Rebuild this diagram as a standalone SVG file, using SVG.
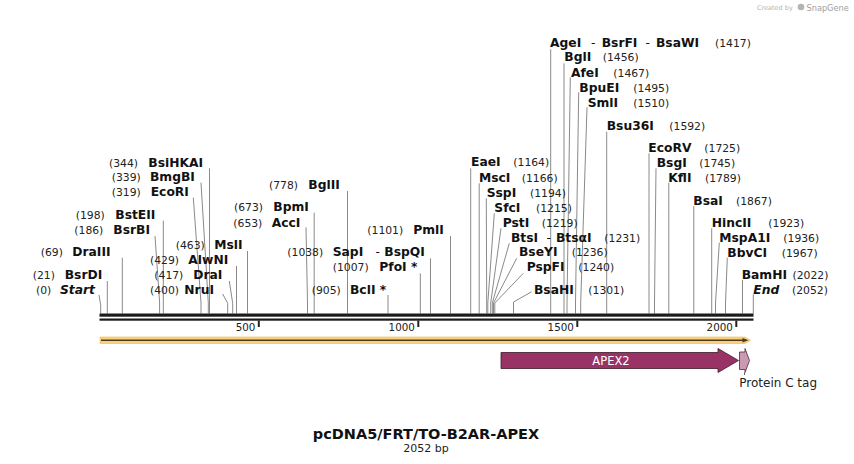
<svg xmlns="http://www.w3.org/2000/svg" width="854" height="464" viewBox="0 0 854 464">
<style>
.n{font-family:"DejaVu Sans",Verdana,sans-serif;font-size:10.8px;fill:#222}
.e{font-family:"DejaVu Sans",Verdana,sans-serif;font-size:12.3px;font-weight:bold;fill:#111}
.d{font-weight:normal}
.i{font-style:italic}
.c{fill:none;stroke:#8a8a8a;stroke-width:1}
.t{font-family:"DejaVu Sans",Verdana,sans-serif;font-size:10.3px;fill:#222;text-anchor:end}
.tk{stroke:#222;stroke-width:2}
</style>
<rect width="854" height="464" fill="#fff"/>
<g id="credit">
<text x="757" y="10" font-family="DejaVu Sans,sans-serif" font-size="6.5" fill="#b4b4b4">Created by</text>
<circle cx="801" cy="7" r="3.3" fill="#b4b4b4"/>
<text x="806.5" y="10.5" font-family="DejaVu Sans,sans-serif" font-size="8.2" fill="#a0a0a0">SnapGene</text>
</g>
<g id="connectors">
<polyline class="c" points="99,295 100.7,305 100.7,313.5"/>
<polyline class="c" points="107.3,281 107.3,313.5"/>
<polyline class="c" points="122.3,257.7 122.3,313.5"/>
<polyline class="c" points="155,236 159.6,302 159.6,313.5"/>
<polyline class="c" points="163.3,220.7 163.3,313.5"/>
<polyline class="c" points="193.3,197.7 201,303 201,313.5"/>
<polyline class="c" points="201,182.7 208.3,303 208.3,313.5"/>
<polyline class="c" points="209.5,168.3 209.5,313.5"/>
<polyline class="c" points="222.7,294 227.7,303.3 227.7,313.5"/>
<polyline class="c" points="229.3,281 232.7,303.3 232.7,313.5"/>
<polyline class="c" points="236.5,266 236.5,313.5"/>
<polyline class="c" points="247.5,251 247.5,313.5"/>
<polyline class="c" points="306,227.3 307.5,303 307.5,313.5"/>
<polyline class="c" points="314.2,212.7 314.2,313.5"/>
<polyline class="c" points="347.5,191 347.5,313.5"/>
<polyline class="c" points="388,295 388,313.5"/>
<polyline class="c" points="420.3,273.3 420.3,313.5"/>
<polyline class="c" points="430.5,258.3 430.5,313.5"/>
<polyline class="c" points="450.5,236 450.5,313.5"/>
<polyline class="c" points="470.7,168.3 470.7,313.5"/>
<polyline class="c" points="479.2,183.3 479.2,313.5"/>
<polyline class="c" points="486.3,198.3 486.7,303 486.7,313.5"/>
<polyline class="c" points="494.3,213.3 487.8,303 487.8,313.5"/>
<polyline class="c" points="501,228.3 490.7,303 490.7,313.5"/>
<polyline class="c" points="509.3,243.3 492.3,303 492.3,313.5"/>
<polyline class="c" points="516.7,258.3 493.5,303 493.5,313.5"/>
<polyline class="c" points="523.3,273.3 494.8,303 494.8,313.5"/>
<polyline class="c" points="531.7,291.7 513.5,302 513.5,313.5"/>
<polyline class="c" points="550.7,49.3 550.7,313.5"/>
<polyline class="c" points="564,63.3 564,313.5"/>
<polyline class="c" points="570.3,77.3 567,303 567,313.5"/>
<polyline class="c" points="578.7,92.3 575.5,303 575.5,313.5"/>
<polyline class="c" points="587,107.3 580.7,303 580.7,313.5"/>
<polyline class="c" points="606.7,131.7 606.7,313.5"/>
<polyline class="c" points="649,153.3 649,313.5"/>
<polyline class="c" points="656,168.3 654.5,303 654.5,313.5"/>
<polyline class="c" points="668.8,182.7 668.8,313.5"/>
<polyline class="c" points="693.8,206 693.8,313.5"/>
<polyline class="c" points="711.7,228.3 711.7,313.5"/>
<polyline class="c" points="719.3,242.7 715.5,303 715.5,313.5"/>
<polyline class="c" points="727.3,257.7 725.5,303 725.5,313.5"/>
<polyline class="c" points="742.5,280 742.5,313.5"/>
<polyline class="c" points="753.3,294.3 753.3,313.5"/>
</g>
<g id="axis">
<rect x="99.5" y="313.5" width="654" height="3.2" fill="#1a1a1a"/>
<rect x="99.5" y="318.5" width="654" height="2.2" fill="#1a1a1a"/>
<line class="tk" x1="258.8" y1="320.5" x2="258.8" y2="327"/>
<line class="tk" x1="418.3" y1="320.5" x2="418.3" y2="327"/>
<line class="tk" x1="577.3" y1="320.5" x2="577.3" y2="327"/>
<line class="tk" x1="736.3" y1="320.5" x2="736.3" y2="327"/>
<text class="t" x="255.3" y="330.5">500</text>
<text class="t" x="414.8" y="330.5">1000</text>
<text class="t" x="573.8" y="330.5">1500</text>
<text class="t" x="732.8" y="330.5">2000</text>
</g>
<g id="site-Start"><text class="n" x="36" y="293.6">(0)</text><text class="e i" x="60" y="293.6">Start</text></g>
<g id="site-BsrDI"><text class="n" x="32.7" y="279.3">(21)</text><text class="e" x="64.7" y="279.3">BsrDI</text></g>
<g id="site-DraIII"><text class="n" x="40.7" y="256">(69)</text><text class="e" x="72.3" y="256">DraIII</text></g>
<g id="site-BsrBI"><text class="n" x="74.3" y="234.3">(186)</text><text class="e" x="113.3" y="234.3">BsrBI</text></g>
<g id="site-BstEII"><text class="n" x="75.7" y="219.3">(198)</text><text class="e" x="115.3" y="219.3">BstEII</text></g>
<g id="site-EcoRI"><text class="n" x="111.7" y="196">(319)</text><text class="e" x="150.7" y="196">EcoRI</text></g>
<g id="site-BmgBI"><text class="n" x="111.7" y="181">(339)</text><text class="e" x="150" y="181">BmgBI</text></g>
<g id="site-BsiHKAI"><text class="n" x="109" y="166.6">(344)</text><text class="e" x="148.3" y="166.6">BsiHKAI</text></g>
<g id="site-NruI"><text class="n" x="150" y="293.6">(400)</text><text class="e" x="184.3" y="293.6">NruI</text></g>
<g id="site-DraI"><text class="n" x="154.3" y="279.3">(417)</text><text class="e" x="193.3" y="279.3">DraI</text></g>
<g id="site-AlwNI"><text class="n" x="150" y="264.3">(429)</text><text class="e" x="188.3" y="264.3">AlwNI</text></g>
<g id="site-MslI"><text class="n" x="175.7" y="249.3">(463)</text><text class="e" x="214.3" y="249.3">MslI</text></g>
<g id="site-AccI"><text class="n" x="233.3" y="227">(653)</text><text class="e" x="271.7" y="227">AccI</text></g>
<g id="site-BpmI"><text class="n" x="234" y="211">(673)</text><text class="e" x="273.3" y="211">BpmI</text></g>
<g id="site-BglII"><text class="n" x="269" y="189.3">(778)</text><text class="e" x="308.3" y="189.3">BglII</text></g>
<g id="site-BclI"><text class="n" x="311.7" y="293.6">(905)</text><text class="e" x="350" y="293.6">BclI *</text></g>
<g id="site-PfoI"><text class="n" x="332.7" y="271">(1007)</text><text class="e" x="379.3" y="271">PfoI *</text></g>
<g id="site-SapI"><text class="n" x="287.3" y="256">(1038)</text><text class="e" x="332.7" y="256">SapI<tspan class="d" x="375.5">-</tspan><tspan x="384.3">BspQI</tspan></text></g>
<g id="site-PmlI"><text class="n" x="367.3" y="234.3">(1101)</text><text class="e" x="413.3" y="234.3">PmlI</text></g>
<g id="site-EaeI"><text class="e" x="471" y="166.3">EaeI</text><text class="n" x="513.3" y="166.3">(1164)</text></g>
<g id="site-MscI"><text class="e" x="479" y="181.6">MscI</text><text class="n" x="521.7" y="181.6">(1166)</text></g>
<g id="site-SspI"><text class="e" x="486.7" y="196.6">SspI</text><text class="n" x="530" y="196.6">(1194)</text></g>
<g id="site-SfcI"><text class="e" x="494.3" y="211.6">SfcI</text><text class="n" x="536" y="211.6">(1215)</text></g>
<g id="site-PstI"><text class="e" x="502.7" y="226.6">PstI</text><text class="n" x="541.7" y="226.6">(1219)</text></g>
<g id="site-BtsI"><text class="e" x="511" y="241.6">BtsI<tspan class="d" x="546.5">-</tspan><tspan x="556">BtsαI</tspan></text><text class="n" x="604.3" y="241.6">(1231)</text></g>
<g id="site-BseYI"><text class="e" x="519" y="256">BseYI</text><text class="n" x="571.7" y="256">(1236)</text></g>
<g id="site-PspFI"><text class="e" x="526.7" y="271">PspFI</text><text class="n" x="578.3" y="271">(1240)</text></g>
<g id="site-BsaHI"><text class="e" x="534" y="294.3">BsaHI</text><text class="n" x="588.3" y="294.3">(1301)</text></g>
<g id="site-AgeI"><text class="e" x="550" y="47">AgeI<tspan class="d" x="591">-</tspan><tspan x="601.7">BsrFI</tspan><tspan class="d" x="645.5">-</tspan><tspan x="656">BsaWI</tspan></text><text class="n" x="715" y="47">(1417)</text></g>
<g id="site-BglI"><text class="e" x="564.3" y="61">BglI</text><text class="n" x="602.7" y="61">(1456)</text></g>
<g id="site-AfeI"><text class="e" x="571" y="76.6">AfeI</text><text class="n" x="613.3" y="76.6">(1467)</text></g>
<g id="site-BpuEI"><text class="e" x="579.3" y="91.6">BpuEI</text><text class="n" x="633.3" y="91.6">(1495)</text></g>
<g id="site-SmlI"><text class="e" x="587.7" y="106.6">SmlI</text><text class="n" x="633.3" y="106.6">(1510)</text></g>
<g id="site-Bsu36I"><text class="e" x="606.7" y="130.3">Bsu36I</text><text class="n" x="669.3" y="130.3">(1592)</text></g>
<g id="site-EcoRV"><text class="e" x="648.3" y="151.6">EcoRV</text><text class="n" x="704.3" y="151.6">(1725)</text></g>
<g id="site-BsgI"><text class="e" x="656.7" y="166.6">BsgI</text><text class="n" x="699.3" y="166.6">(1745)</text></g>
<g id="site-KflI"><text class="e" x="668.3" y="181.6">KflI</text><text class="n" x="705" y="181.6">(1789)</text></g>
<g id="site-BsaI"><text class="e" x="693.3" y="204.5">BsaI</text><text class="n" x="736" y="204.5">(1867)</text></g>
<g id="site-HincII"><text class="e" x="711.7" y="227">HincII</text><text class="n" x="768.3" y="227">(1923)</text></g>
<g id="site-MspA1I"><text class="e" x="719.3" y="242">MspA1I</text><text class="n" x="783.3" y="242">(1936)</text></g>
<g id="site-BbvCI"><text class="e" x="727.3" y="257">BbvCI</text><text class="n" x="781.7" y="257">(1967)</text></g>
<g id="site-BamHI"><text class="e" x="741.7" y="279.3">BamHI</text><text class="n" x="792.5" y="279.3">(2022)</text></g>
<g id="site-End"><text class="e i" x="753.3" y="294.3">End</text><text class="n" x="792" y="294.3">(2052)</text></g>
<g id="orf">
<polygon points="100,337 745,337 750.5,340.2 745,343.5 100,343.5" fill="#fbd07c" stroke="#f3b955" stroke-width="0.6"/>
<line x1="101" y1="340.2" x2="744" y2="340.2" stroke="#4d3b1e" stroke-width="1.6"/>
<polygon points="742.5,338 748.5,340.2 742.5,342.4" fill="#4d3b1e"/>
</g>
<g id="feature-APEX2">
<polygon points="501,352.5 718,352.5 718,348.5 738.5,360.5 718,372.5 718,368.5 501,368.5" fill="#993366" stroke="#3a1a2a" stroke-width="0.8"/>
<text x="611" y="364.5" font-family="DejaVu Sans,sans-serif" font-size="11.5" fill="#fff" text-anchor="middle">APEX2</text>
</g>
<g id="feature-ProteinC">
<polygon points="739.5,352 745,352 745,348.5 749.5,360.5 745,372.5 745,369.5 739.5,369.5" fill="#cc99b3" stroke="#4a2a3a" stroke-width="0.8"/>
<line x1="744.5" y1="372.5" x2="744.5" y2="375" stroke="#4a2a3a" stroke-width="0.8"/>
<text x="739.3" y="387" font-family="DejaVu Sans,sans-serif" font-size="12" fill="#222">Protein C tag</text>
</g>
<g id="title">
<text x="426" y="439.3" font-family="DejaVu Sans,Verdana,sans-serif" font-size="14.5" font-weight="bold" fill="#111" text-anchor="middle">pcDNA5/FRT/TO-B2AR-APEX</text>
<text x="426" y="451.5" font-family="DejaVu Sans,Verdana,sans-serif" font-size="11" fill="#222" text-anchor="middle">2052 bp</text>
</g>
</svg>
